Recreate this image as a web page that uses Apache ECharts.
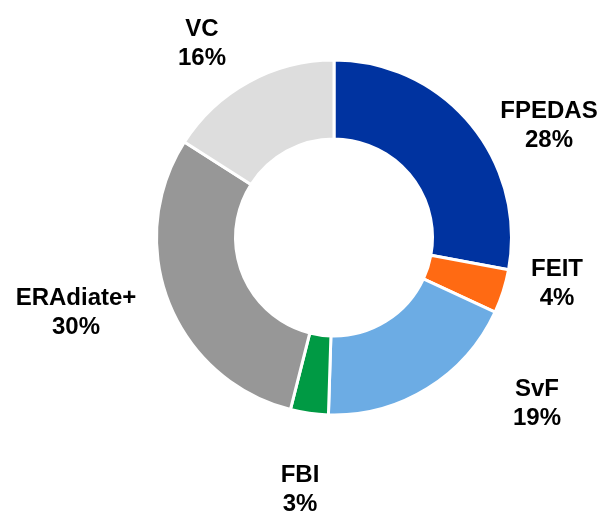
<!DOCTYPE html>
<html>
<head>
<meta charset="utf-8">
<style>
  html, body { margin: 0; padding: 0; background: #fff; }
  #main { width: 605px; height: 511px; }
</style>
<script src="https://cdn.jsdelivr.net/npm/echarts@6/dist/echarts.min.js"></script>
</head>
<body>
<div id="main"></div>
<script>
const categories = ['FPEDAS', 'FEIT', 'SvF', 'FBI', 'ERAdiate+', 'VC'];
// slice sizes (labels show the rounded values)
const shares = [27.9, 4.0, 18.6, 3.45, 30.1, 15.95];
const pctLabels = ['28%', '4%', '19%', '3%', '30%', '16%'];
const colors = ['#0033A0', '#FF6A13', '#6CACE4', '#009A44', '#979797', '#DDDDDD'];
// label anchor offsets from the pie centre (Excel style outside-end placement)
const labelOffsets = [[215, -112], [223, 46], [203, 166], [-34, 252], [-258, 75], [-132, -194]];

const center = [334, 237.5];

const chart = echarts.init(document.getElementById('main'));

chart.setOption({
    animation: false,
    series: [
        {
            type: 'pie',
            center: center,
            radius: [98.5, 177.5],
            startAngle: 90,
            clockwise: true,
            avoidLabelOverlap: false,
            itemStyle: {
                borderColor: '#ffffff',
                borderWidth: 3,
            },
            label: {
                show: true,
                position: 'outside',
                formatter: (p) => p.name + '\n' + pctLabels[p.dataIndex],
                fontFamily: 'Liberation Sans, Arial, sans-serif',
                fontWeight: 'bold',
                fontSize: 24,
                lineHeight: 29,
                color: '#000',
                align: 'center',
            },
            labelLine: { show: false },
            labelLayout: (params) => {
                const off = labelOffsets[params.dataIndex];
                return {
                    x: center[0] + off[0],
                    y: center[1] + off[1],
                    align: 'center',
                    verticalAlign: 'middle',
                };
            },
            emphasis: { disabled: true },
            data: categories.map((name, i) => ({
                name: name,
                value: shares[i],
                itemStyle: { color: colors[i] },
            })),
        },
    ],
});
</script>
</body>
</html>
